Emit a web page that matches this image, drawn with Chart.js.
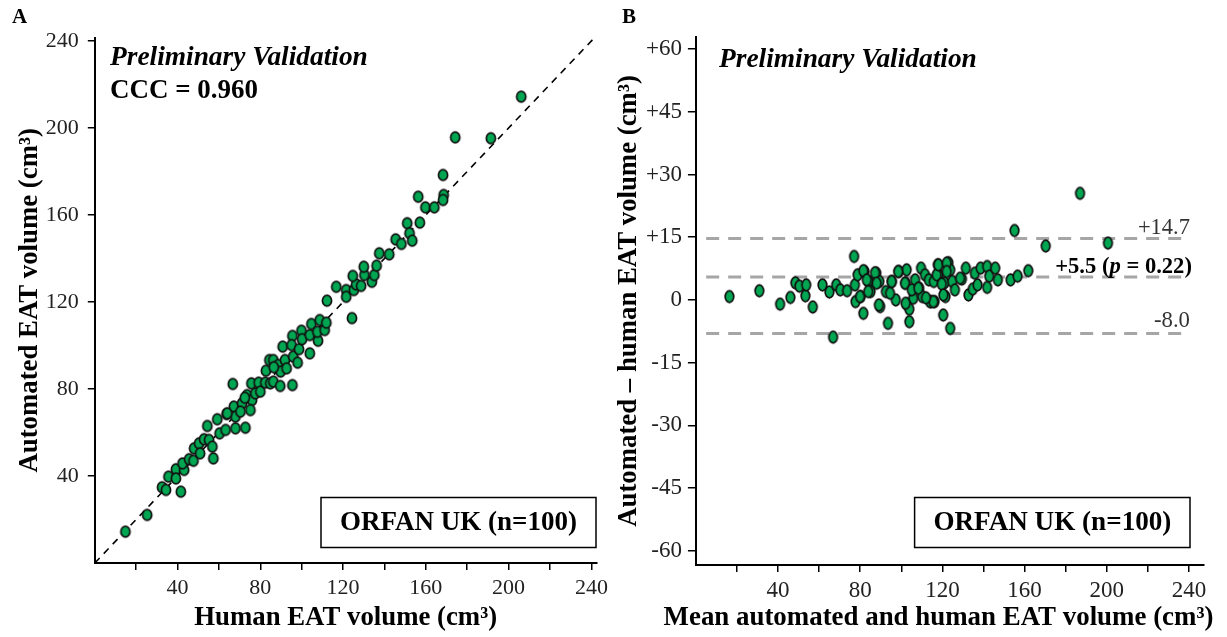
<!DOCTYPE html>
<html><head><meta charset="utf-8">
<script src="https://cdn.jsdelivr.net/npm/chart.js@4.4.1/dist/chart.umd.min.js"></script>
<style>
html,body{margin:0;padding:0;background:#fff;width:1227px;height:637px;overflow:hidden}
#wa{position:absolute;left:0;top:0;width:613px;height:637px}
#wb{position:absolute;left:613px;top:0;width:614px;height:637px}
</style></head><body>
<div id="wa"><canvas id="ca" width="613" height="637"></canvas></div>
<div id="wb"><canvas id="cb" width="614" height="637"></canvas></div>
<script>
// ---- Panel A data: human vs automated EAT volume (cm3) ----
const humanVolume = [14.8,25.3,32.5,34.4,41.6,35.6,39.2,39.2,43.2,42.4,45.6,47.7,48,50.4,50.9,52.8,55.2,56.8,57.3,54.4,
  59.2,60.3,63.2,63.7,67.2,68,72.8,66.7,71.2,73.6,76,75.2,68,77.6,75.7,64,70.4,72.5,79.2,80,
  82.4,82.7,84.8,86.3,89.6,95.5,84.4,86.3,88.7,89.8,91.9,92.7,90.8,95.9,98,95.5,95.1,98.7,99.9,100.2,
  103.9,103.9,104.7,107.9,107.6,108.7,111.1,112.2,111.9,116.7,121.5,121.5,125.2,126.3,124.7,128.7,130.3,130,133.9,135.1,
  136.2,137.5,142.3,145.4,148.2,151,152.1,153.4,157.1,156.3,159.8,206.1,174.2,191.4,168.3,168.6,168.3,164.1,124.3,86.5];
const automatedVolume = [14.4,22.1,34.8,33.6,32.8,39.7,43.1,38.9,42.8,45.8,47.7,47,52.7,55,50.4,56.9,56.6,53.5,48.1,63,
  66.1,59.6,61.2,68.5,71.9,61.9,62.2,82.3,73.4,77.2,74.9,70.3,67.3,78,82.6,68.8,69.6,76,82.9,78.8,
  82.9,88.4,82.6,83.4,81.4,81.8,93.3,93.3,91,88,93.3,89.5,99.5,94.9,92.1,104.4,100.2,98.3,106.8,102.9,
  96.4,104.8,109.9,102.2,106.3,111.7,107.1,120.6,110.5,127,125.5,122.4,125.5,128.1,132,127.4,132.4,136.2,129.3,132.4,
  136.7,142.4,141.9,148.8,146.7,156.2,151.6,148.2,156.5,168.4,163.5,214.4,195.7,195.3,178.4,169.2,166.9,163.5,112.6,90];

// ---- Panel B data: Bland-Altman (mean vs difference) ----
const meanVolume = [16.3,30.9,41,46,48.4,50.4,53.3,53.7,56.9,61.6,65,66.8,68.3,70.3,73.6,77,77.4,77.7,78.7,80.2,
  81.5,82.1,84,85,87.8,89.3,89.7,92.5,93.5,95.4,97.3,98.8,102,102.6,102.6,103.9,103.9,105.8,106.7,108.7,
  109.6,110.2,111.5,113.4,114.4,115.8,116.2,117.8,118.1,120.4,121,121.5,122.9,123.8,123.8,124.8,126.1,129.5,131.4,132.7,
  134.8,135.8,137.1,138.6,141.8,141.8,142.8,145.7,147,153.2,156.6,155.1,161.8,170.3,200.6,187,
  81.5,83.2,87.2,88,79.9,83.9,89.1,94.5,95.3,98.5,101.8,102.1,105.1,108.3,114,115.6,117.2,118,119.7,120.5,122.1,128.6,122.1,112];
const volumeDifference = [0.8,2.2,-1,0.6,4.1,3.3,1,3.6,-1.7,3.6,1.9,-8.9,3.6,2.4,2.2,10.4,3.6,-0.4,6,0.8,
  -3.2,6.8,4.4,2,6.4,4.4,-1.6,2,-5.6,4.4,0,6.8,4,7.2,-1,-5.2,-2.2,0.4,4.8,2.8,
  7.6,0.8,6,4.8,-0.4,4.4,-0.4,8.4,6,-3.6,4.1,0.8,8.9,7.2,-6.8,4.4,2.4,5,7.6,1.2,
  2.6,6.4,3.6,7.6,3,8,5.7,7.6,4.8,4.8,5.7,16.6,7,12.9,13.6,25.5,
  7,4.8,6.5,4,0.8,2,-1.2,1.6,4.4,6.8,4,-0.8,2.4,2.8,-0.4,-0.4,6,8.4,3.8,1.2,8.8,5.2,6.8,0.5];

// limits of agreement
const limitValues = [14.7, 5.5, -8.0];
const limitLabels = ['+14.7', '+5.5', '-8.0'];

// tick values
const xTicksA = [20,40,60,80,100,120,140,160,180,200,220,240];
const yTicksA = [40,80,120,160,200,240];
const xTicksB = [20,40,60,80,100,120,140,160,180,200,220,240];
const yTicksB = [-60,-45,-30,-15,0,15,30,45,60];

const SERIF = '"Liberation Serif","Times New Roman",serif';
const GREEN = '#00a651';
const mctx = document.createElement('canvas').getContext('2d');
function fitSize(text, style, target){ mctx.font = style + ' 100px ' + SERIF; return 100 * target / mctx.measureText(text).width; }
function fnt(style, size){ return (style ? style + ' ' : '') + size.toFixed(2) + 'px ' + SERIF; }

function ellipseSprite(rx, ry){
  const c = document.createElement('canvas');
  const w = Math.ceil(rx*2+4), h = Math.ceil(ry*2+4);
  c.width = w; c.height = h;
  const g = c.getContext('2d');
  g.beginPath(); g.ellipse(w/2, h/2, rx, ry, 0, 0, Math.PI*2);
  g.fillStyle = GREEN; g.fill();
  g.lineWidth = 1.7; g.strokeStyle = '#111'; g.stroke();
  return c;
}
const spriteA = ellipseSprite(4.6, 5.4);
const spriteB = ellipseSprite(4.3, 5.8);

function txt(ctx, s, x, y, font, align, color){
  ctx.font = font; ctx.textAlign = align; ctx.textBaseline = 'middle';
  ctx.fillStyle = color || '#000'; ctx.fillText(s, x, y);
}

const titleSize = fitSize('Human EAT volume (cm³)', 'bold', 303);
const titleBx = 'Mean automated and human EAT volume (cm³)';

function setTicks(list){ return function(scale){ scale.ticks = list.map(v => ({value: v})); }; }

function axisCommon(extra){
  return Object.assign({
    type: 'linear',
    grid: {display: true, drawOnChartArea: false, drawTicks: true, tickLength: 7, color: '#000', lineWidth: 1.5},
    border: {display: true, color: '#000', width: 2}
  }, extra);
}

// ---------------- Chart A ----------------
const annotA = {
  id: 'annotA',
  afterDraw(chart){
    const ctx = chart.ctx; ctx.save();
    txt(ctx, 'A', 12, 18, fnt('bold', 21), 'left');
    txt(ctx, 'Preliminary Validation', 110, 58, fnt('italic bold', fitSize('Preliminary Validation', 'italic bold', 258)), 'left');
    txt(ctx, 'CCC = 0.960', 110, 91, fnt('bold', fitSize('CCC = 0.960', 'bold', 148)), 'left');
    ctx.lineWidth = 1.5; ctx.strokeStyle = '#000';
    ctx.strokeRect(321, 497.5, 275, 50);
    txt(ctx, 'ORFAN UK (n=100)', 458.5, 523, fnt('bold', fitSize('ORFAN UK (n=100)', 'bold', 237)), 'center');
    ctx.restore();
  }
};

new Chart(document.getElementById('ca'), {
  data: {
    datasets: [
      {type: 'scatter', label: 'ORFAN UK', data: humanVolume.map((h, i) => ({x: h, y: automatedVolume[i]})),
       pointStyle: spriteA, pointRadius: 5, order: 0},
      {type: 'line', label: 'identity', data: [{x: 0, y: 0}, {x: 241.5, y: 241.5}],
       borderColor: '#000', borderWidth: 1.6, borderDash: [7, 6], pointRadius: 0, fill: false, order: 1}
    ]
  },
  options: {
    responsive: false, animation: false, devicePixelRatio: 1,
    layout: {padding: {left: 0, top: 37.7, right: 12.1, bottom: 0}},
    plugins: {legend: {display: false}, tooltip: {enabled: false}},
    scales: {
      x: axisCommon({
        position: 'bottom', min: 0, max: 242.5,
        afterBuildTicks: setTicks(xTicksA),
        afterFit(s){ s.height = 74; },
        ticks: {autoSkip: false, maxRotation: 0, padding: 5, color: '#222', font: {family: SERIF, size: 22},
                callback: v => (v % 40 === 0 ? String(v) : '')},
        title: {display: true, text: 'Human EAT volume (cm³)', color: '#000',
                font: {family: SERIF, size: titleSize, weight: 'bold'}, padding: {top: 0, bottom: 3}}
      }),
      y: axisCommon({
        position: 'left', min: 0, max: 241.5,
        afterBuildTicks: setTicks(yTicksA),
        afterFit(s){ s.width = 94.8; },
        ticks: {autoSkip: false, padding: 9, color: '#222', font: {family: SERIF, size: 22},
                callback: v => String(v)},
        title: {display: true, text: 'Automated EAT volume (cm³)', color: '#000',
                font: {family: SERIF, size: titleSize, weight: 'bold'}, padding: {top: 14, bottom: 0}}
      })
    }
  },
  plugins: [annotA]
});

// ---------------- Chart B ----------------
const OFF = 613;
const annotB = {
  id: 'annotB',
  afterDraw(chart){
    const ctx = chart.ctx; ctx.save();
    const ys = chart.scales.y, xs = chart.scales.x;
    txt(ctx, 'B', 622 - OFF, 18, fnt('bold', 21), 'left');
    txt(ctx, 'Preliminary Validation', 719 - OFF, 60, fnt('italic bold', fitSize('Preliminary Validation', 'italic bold', 258)), 'left');
    ctx.lineWidth = 1.5; ctx.strokeStyle = '#000';
    ctx.strokeRect(914.6 - OFF, 497.5, 275.4, 50);
    txt(ctx, 'ORFAN UK (n=100)', 1052.4 - OFF, 523, fnt('bold', fitSize('ORFAN UK (n=100)', 'bold', 238)), 'center');
    // x-axis title (wider than the axis, so drawn here)
    txt(ctx, titleBx, 938.5 - OFF, 618, fnt('bold', fitSize(titleBx, 'bold', 550)), 'center');
    const xr = xs.getPixelForValue(240.5);
    txt(ctx, limitLabels[0], xr, ys.getPixelForValue(limitValues[0]) - 10, fnt('', fitSize('+14.7', '', 52)), 'right', '#333');
    txt(ctx, limitLabels[2], xr, ys.getPixelForValue(limitValues[2]) - 12, fnt('', fitSize('-8.0', '', 36)), 'right', '#333');
    // mean label with italic p
    const bs = fitSize('+5.5 (p = 0.22)', 'bold', 138);
    const parts = [[limitLabels[1] + ' (', 'bold'], ['p', 'italic bold'], [' = 0.22)', 'bold']];
    let w = 0; parts.forEach(p => { ctx.font = fnt(p[1], bs); w += ctx.measureText(p[0]).width; });
    let x = xr + 2 - w; const y = ys.getPixelForValue(limitValues[1]) - 10;
    parts.forEach(p => { const f = fnt(p[1], bs); txt(ctx, p[0], x, y, f, 'left', '#000'); ctx.font = f; x += ctx.measureText(p[0]).width; });
    ctx.restore();
  }
};

const limitDatasets = limitValues.map((v, i) => ({
  type: 'line', label: 'limit ' + limitLabels[i], data: [{x: 5, y: v}, {x: 240.5, y: v}],
  borderColor: '#a6a6a6', borderWidth: 3, borderDash: [13, 9], pointRadius: 0, fill: false, order: 2
}));

new Chart(document.getElementById('cb'), {
  data: {
    datasets: [
      {type: 'scatter', label: 'ORFAN UK', data: meanVolume.map((m, i) => ({x: m, y: volumeDifference[i]})),
       pointStyle: spriteB, pointRadius: 5, order: 0}
    ].concat(limitDatasets)
  },
  options: {
    responsive: false, animation: false, devicePixelRatio: 1,
    layout: {padding: {left: 0, top: 37, right: 23.1, bottom: 0}},
    plugins: {legend: {display: false}, tooltip: {enabled: false}},
    scales: {
      x: axisCommon({
        position: 'bottom', min: 0, max: 247.3,
        afterBuildTicks: setTicks(xTicksB),
        afterFit(s){ s.height = 72; },
        ticks: {autoSkip: false, maxRotation: 0, padding: 5, color: '#222', font: {family: SERIF, size: 23},
                callback: v => (v % 40 === 0 ? String(v) : '')},
        title: {display: false, text: titleBx}
      }),
      y: axisCommon({
        position: 'left', min: -63.4, max: 62.9,
        afterBuildTicks: setTicks(yTicksB),
        afterFit(s){ s.width = 82.9; },
        grid: {display: true, drawOnChartArea: false, drawTicks: true, tickLength: 8, color: '#000', lineWidth: 1.5},
        ticks: {autoSkip: false, padding: 6, color: '#222', font: {family: SERIF, size: 23},
                callback: v => (v > 0 ? '+' + v : String(v))},
        title: {display: true, text: 'Automated – human EAT volume (cm³)', color: '#000',
                font: {family: SERIF, size: titleSize, weight: 'bold'}, padding: {top: 0, bottom: 0}}
      })
    }
  },
  plugins: [annotB]
});
</script>
</body></html>
